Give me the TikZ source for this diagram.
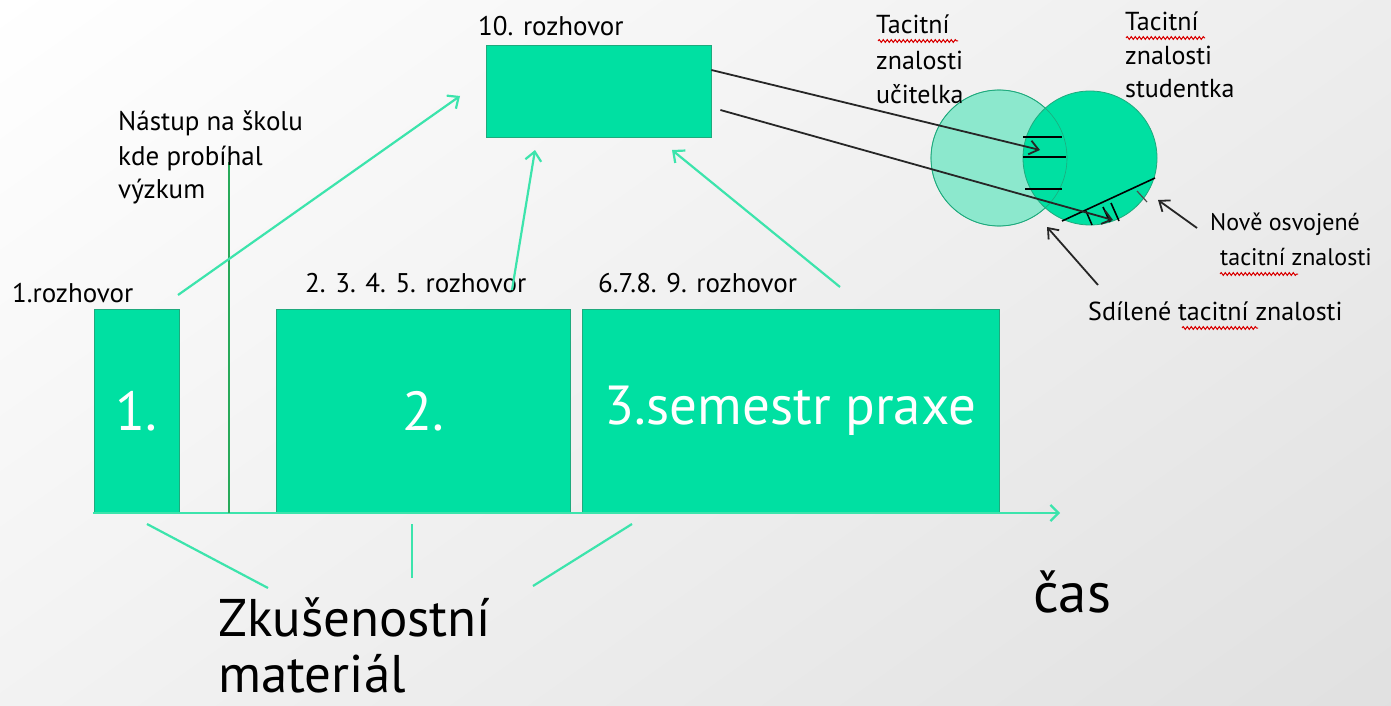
\documentclass[tikz,border=0pt]{standalone}
\usepackage{fontspec}
\setmainfont{PT Sans}
\usetikzlibrary{arrows.meta,decorations.pathmorphing,shadings}
\definecolor{tgreen}{RGB}{0,224,162}
\definecolor{tborder}{RGB}{30,170,125}
\definecolor{lgreen}{RGB}{140,232,205}
\definecolor{aline}{RGB}{60,228,172}
\definecolor{vline}{RGB}{40,170,90}
\begin{document}
\begin{tikzpicture}[x=1pt,y=-1pt,
  box/.style={draw=tborder,fill=tgreen,line width=0.8pt,inner sep=0pt,text=white,font=\fontsize{55}{55}\selectfont},
  lbl/.style={inner sep=0pt,anchor=base west,font=\fontsize{27}{34}\selectfont},
  clbl/.style={inner sep=0pt,anchor=base west,font=\fontsize{26}{34}\selectfont},
  big/.style={inner sep=0pt,anchor=base west,font=\fontsize{53}{60}\selectfont},
  garrow/.style={draw=aline,line width=2.2pt,-{Straight Barb[length=9pt,width=16pt,line width=2.2pt]}},
  gline/.style={draw=aline,line width=2.2pt},
  karrow/.style={draw=black!85,line width=1.8pt,-{Straight Barb[length=9pt,width=14pt,line width=1.8pt]}},
  hatch/.style={draw=black,line width=1.6pt},
  wavy/.style={draw=red!85!black,line width=1pt,decorate,decoration={snake,segment length=4pt,amplitude=1.4pt}}]
\shade[upper left=white,upper right=black!7,lower left=black!5,lower right=black!12] (0,0) rectangle (1391,706);
\useasboundingbox (0,0) rectangle (1391,706);

% boxes
\node[box,minimum width=85pt,minimum height=204pt] (b1) at (136.5,411) {1.};
\node[box,minimum width=294pt,minimum height=204pt] (b2) at (423,411) {2.};
\node[box,minimum width=417pt,minimum height=204pt] (b3) at (790.5,411) {3.semestr praxe};
\node[box,minimum width=225pt,minimum height=92pt] (b10) at (598.5,91) {};

% time axis
\coordinate (a0) at (93,513);
\coordinate (a1) at (1060,513);
\draw[draw=aline,line width=2.2pt,-{Straight Barb[length=8pt,width=16pt,line width=2.2pt]}] (a0) -- (a1);

% vertical marker
\coordinate (v0) at (229,162);
\coordinate (v1) at (229,513);
\draw[draw=vline,line width=1.5pt] (v0) -- (v1);

% labels
\node[lbl] (t10) at (478,36) {10. rozhovor};
\node[lbl] (t1) at (12,302) {1.rozhovor};
\node[lbl] (t2) at (305,292) {2. 3. 4. 5. rozhovor};
\node[lbl] (t3) at (598,292) {6.7.8. 9. rozhovor};
\node[lbl] (tn1) at (118,131) {Nástup na školu};
\node[lbl] (tn2) at (118,165) {kde probíhal};
\node[lbl] (tn3) at (118,198) {výzkum};
\node[big] (tz1) at (218,636) {Zkušenostní};
\node[big] (tz2) at (218,692) {materiál};
\node[inner sep=0pt,anchor=base west,font=\fontsize{57}{62}\selectfont] (tc) at (1033,612) {čas};

% green arrows
\coordinate (g1s) at (178,295); \coordinate (g1e) at (460,96);
\coordinate (g2s) at (512,290); \coordinate (g2e) at (535,150);
\coordinate (g3s) at (840,287); \coordinate (g3e) at (672,150);
\draw[garrow] (g1s) -- (g1e);
\draw[garrow] (g2s) -- (g2e);
\draw[garrow] (g3s) -- (g3e);

% bottom lines
\coordinate (z1s) at (147,524); \coordinate (z1e) at (268,588);
\coordinate (z2s) at (412,524); \coordinate (z2e) at (412,578);
\coordinate (z3s) at (632,524); \coordinate (z3e) at (533,586);
\draw[gline] (z1s) -- (z1e);
\draw[gline] (z2s) -- (z2e);
\draw[gline] (z3s) -- (z3e);

% circles
\node[circle,minimum size=136pt,inner sep=0pt,draw=tborder,line width=0.8pt,fill=lgreen] (cL) at (999,158) {};
\node[circle,minimum size=134pt,inner sep=0pt,draw=tborder,line width=0.8pt,fill=tgreen] (cR) at (1090,158) {};
\draw[tborder,line width=0.6pt] (cL) circle[radius=68pt];

% hatching in intersection
\draw[hatch] (1023,137) -- (1062,137);
\draw[hatch] (1023,157) -- (1066,157);
\draw[hatch] (1025,189) -- (1062,189);
% hatching new knowledge
\draw[hatch] (1062,221) -- (1155,178);
\draw[hatch] (1086,211) -- (1092,225);
\draw[hatch] (1103,207) -- (1110,222);
\draw[hatch] (1111,203) -- (1119,221);
\draw[line width=1.2pt,black!70] (1137,191) -- (1147,202);

% black arrows
\coordinate (k1) at (1040,150);
\coordinate (k2) at (1113,220);
\draw[karrow] ([yshift=21pt]b10.east) -- (k1);
\draw[karrow] ([xshift=9pt,yshift=-19pt]b10.east) -- (k2);

% circle labels
\node[clbl] (tl1) at (876,34) {Tacitní};
\node[clbl] (tl2) at (876,70) {znalosti};
\node[clbl] (tl3) at (876,103) {učitelka};
\node[clbl] (tr1) at (1125,31) {Tacitní};
\node[clbl] (tr2) at (1125,65) {znalosti};
\node[clbl] (tr3) at (1125,98) {studentka};
\node[inner sep=0pt,anchor=base west,font=\fontsize{24}{34}\selectfont] (tnew1) at (1210,230) {Nově osvojené};
\node[inner sep=0pt,anchor=base west,font=\fontsize{24}{34}\selectfont] (tnew2) at (1220,265) {tacitní znalosti};
\node[clbl] (tsh) at (1088,320) {Sdílené tacitní znalosti};

\coordinate (n1s) at (1197,228); \coordinate (n1e) at (1158,200);
\coordinate (s1s) at (1098,285); \coordinate (s1e) at (1047,227);
\draw[karrow] (n1s) -- (n1e);
\draw[karrow] (s1s) -- (s1e);

% spell-check underlines
\draw[wavy] (878,41) -- (958,41);
\draw[wavy] (1126,38) -- (1205,38);
\draw[wavy] (1220,274) -- (1298,274);
\draw[wavy] (1182,328) -- (1258,328);
\end{tikzpicture}
\end{document}
